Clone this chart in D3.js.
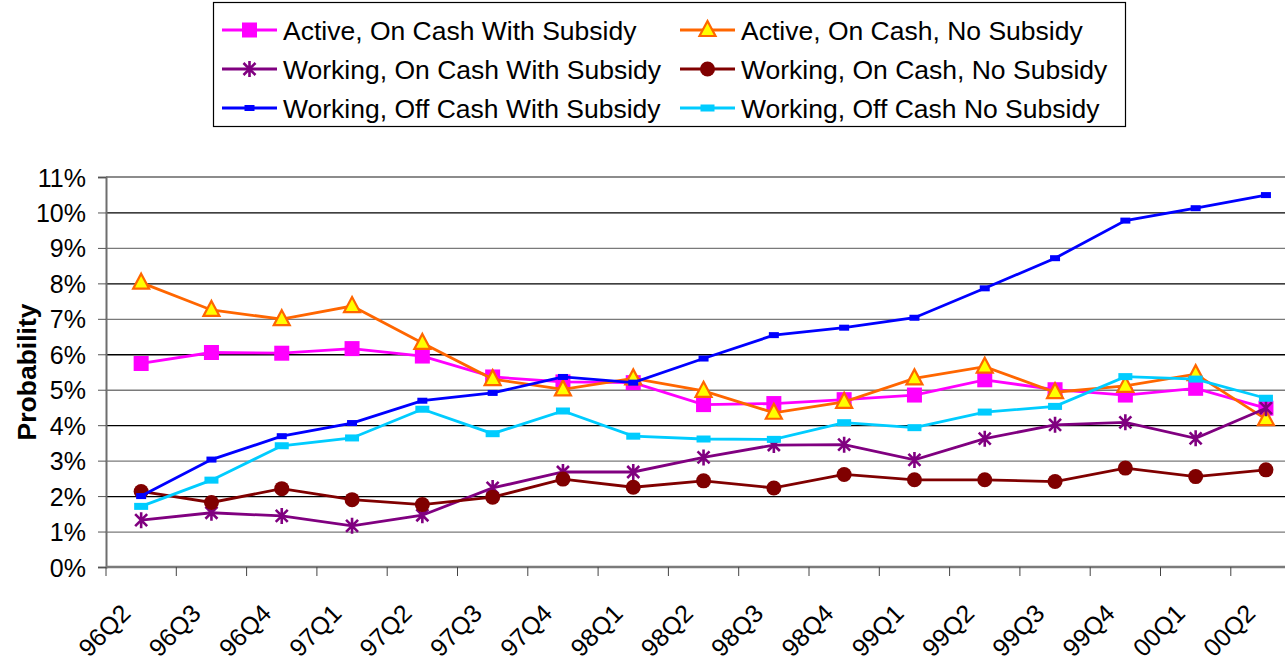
<!DOCTYPE html>
<head>
    <meta charset="utf-8">
    <style>
        body { margin: 0; padding: 0; background: #fff; }
        svg { display: block; font-family: "Liberation Sans", Arial, sans-serif; }
        .tick text { font-size: 25px; fill: #000; }
        .legend text { font-size: 26.5px; }
    </style>
    <script src="https://d3js.org/d3.v7.min.js"></script>
</head>
<body>
    <svg width="1285" height="661"></svg>
    <script>
        // data
        var quarters = ["96Q2", "96Q3", "96Q4", "97Q1", "97Q2", "97Q3", "97Q4", "98Q1", "98Q2",
                        "98Q3", "98Q4", "99Q1", "99Q2", "99Q3", "99Q4", "00Q1", "00Q2"];
        var activeOnCashSub   = [5.74, 6.05, 6.03, 6.16, 5.95, 5.36, 5.22, 5.20, 4.58, 4.61, 4.72, 4.85, 5.28, 5.00, 4.85, 5.04, 4.48];
        var activeOnCashNoSub = [8.02, 7.25, 6.99, 7.36, 6.32, 5.30, 5.01, 5.32, 4.97, 4.35, 4.66, 5.32, 5.65, 4.93, 5.11, 5.44, 4.17];
        var workOnCashSub     = [1.32, 1.53, 1.44, 1.16, 1.46, 2.23, 2.68, 2.68, 3.09, 3.44, 3.45, 3.02, 3.62, 4.01, 4.08, 3.63, 4.48];
        var workOnCashNoSub   = [2.13, 1.82, 2.21, 1.90, 1.76, 1.97, 2.48, 2.25, 2.43, 2.23, 2.61, 2.46, 2.46, 2.41, 2.79, 2.55, 2.74];
        var workOffCashSub    = [2.00, 3.03, 3.69, 4.06, 4.69, 4.91, 5.36, 5.20, 5.88, 6.54, 6.75, 7.03, 7.86, 8.71, 9.77, 10.12, 10.49];
        var workOffCashNoSub  = [1.71, 2.45, 3.42, 3.64, 4.45, 3.76, 4.40, 3.69, 3.61, 3.60, 4.07, 3.93, 4.37, 4.53, 5.37, 5.30, 4.76];
        var yTicks = [0, 1, 2, 3, 4, 5, 6, 7, 8, 9, 10, 11];

        var series = [
            {name: "Active, On Cash With Subsidy", values: activeOnCashSub, color: "#ff00ff", marker: "square"},
            {name: "Active, On Cash, No Subsidy", values: activeOnCashNoSub, color: "#ff6600", marker: "triangle"},
            {name: "Working, On Cash With Subsidy", values: workOnCashSub, color: "#800080", marker: "star"},
            {name: "Working, On Cash, No Subsidy", values: workOnCashNoSub, color: "#800000", marker: "circle"},
            {name: "Working, Off Cash With Subsidy", values: workOffCashSub, color: "#0000ff", marker: "dash"},
            {name: "Working, Off Cash No Subsidy", values: workOffCashNoSub, color: "#00ccff", marker: "bar"}
        ];

        var svg = d3.select("svg");
        var plotLeft = 106, plotTop = 177, plotBottom = 567, band = 70.3;

        var x = d3.scaleBand()
            .domain(quarters)
            .range([plotLeft, plotLeft + band * quarters.length]);
        var y = d3.scaleLinear()
            .domain([0, 11])
            .range([plotBottom, plotTop]);

        // gridlines
        svg.append("g")
            .selectAll("line")
            .data(yTicks.filter(function (d) { return d > 0 && d < 11; }))
            .enter().append("line")
                .attr("x1", plotLeft).attr("x2", 1285)
                .attr("y1", function (d) { return y(d) + 0.5; })
                .attr("y2", function (d) { return y(d) + 0.5; })
                .attr("stroke", function (d) { return d % 2 === 0 ? "#000" : "#7a7a7a"; })
                .attr("stroke-width", 1.3);
        // plot border top
        svg.append("line")
            .attr("x1", plotLeft).attr("x2", 1285)
            .attr("y1", y(11)).attr("y2", y(11))
            .attr("stroke", "#8c8c8c").attr("stroke-width", 2.2);

        // y axis
        var yAxis = svg.append("g")
            .attr("transform", "translate(" + plotLeft + ",0)")
            .call(d3.axisLeft(y).tickValues(yTicks).tickSize(8).tickPadding(12)
                .tickFormat(function (d) { return d + "%"; }));
        yAxis.select(".domain").attr("stroke", "#6e6e6e").attr("stroke-width", 2);
        yAxis.selectAll(".tick line").attr("stroke", "#555");
        yAxis.selectAll(".tick text").attr("dy", "0.36em");

        // x axis
        var xAxis = svg.append("g")
            .attr("transform", "translate(0," + plotBottom + ")");
        xAxis.append("line")
            .attr("x1", plotLeft).attr("x2", 1285)
            .attr("stroke", "#7a7a7a").attr("stroke-width", 2.4);
        xAxis.selectAll(".xt")
            .data(quarters)
            .enter().append("line")
                .attr("class", "xt")
                .attr("x1", function (d) { return x(d); })
                .attr("x2", function (d) { return x(d); })
                .attr("y1", 0).attr("y2", 9)
                .attr("stroke", "#444");
        xAxis.selectAll(".xl")
            .data(quarters)
            .enter().append("text")
                .attr("class", "xl")
                .attr("font-size", 25)
                .attr("text-anchor", "end")
                .attr("transform", function (d) {
                    return "translate(" + (x(d) + x.bandwidth() / 2 - 9) + ",48) rotate(-45)";
                })
                .text(function (d) { return d; });

        // y title
        svg.append("text")
            .attr("transform", "translate(36,372) rotate(-90)")
            .attr("text-anchor", "middle")
            .attr("font-size", 26.5)
            .attr("font-weight", "bold")
            .text("Probability");

        function cx(i) { return x(quarters[i]) + x.bandwidth() / 2; }

        function drawMarker(g, type, color) {
            if (type === "square") {
                g.append("rect").attr("x", -7.5).attr("y", -7.5).attr("width", 15).attr("height", 15)
                    .attr("fill", color);
            } else if (type === "triangle") {
                g.append("path").attr("d", "M0,-9L8,6L-8,6Z")
                    .attr("fill", "#ffff00").attr("stroke", color).attr("stroke-width", 2.2);
            } else if (type === "star") {
                g.append("path").attr("d", "M-6,-6L6,6M6,-6L-6,6M0,-8L0,8")
                    .attr("stroke", color).attr("stroke-width", 2.6).attr("fill", "none");
            } else if (type === "circle") {
                g.append("circle").attr("r", 7.5).attr("fill", color);
            } else if (type === "dash") {
                g.append("rect").attr("x", -5).attr("y", -3).attr("width", 10).attr("height", 6)
                    .attr("fill", color);
            } else if (type === "bar") {
                g.append("rect").attr("x", -7).attr("y", -3.5).attr("width", 14).attr("height", 7)
                    .attr("fill", color);
            }
        }

        var line = d3.line()
            .x(function (d, i) { return cx(i); })
            .y(function (d) { return y(d); });

        series.forEach(function (s) {
            var g = svg.append("g");
            g.append("path")
                .attr("d", line(s.values))
                .attr("fill", "none")
                .attr("stroke", s.color)
                .attr("stroke-width", 2.8);
            s.values.forEach(function (v, i) {
                var m = g.append("g").attr("transform", "translate(" + cx(i) + "," + y(v) + ")");
                drawMarker(m, s.marker, s.color);
            });
        });

        // legend
        var legend = svg.append("g").attr("class", "legend");
        legend.append("rect")
            .attr("x", 213.5).attr("y", 2.5).attr("width", 912).attr("height", 124)
            .attr("fill", "#fff").attr("stroke", "#000").attr("stroke-width", 1.2);
        series.forEach(function (s, i) {
            var lx = i % 2 === 0 ? 222 : 680;
            var ly = 30 + Math.floor(i / 2) * 39;
            var item = legend.append("g").attr("transform", "translate(" + lx + "," + ly + ")");
            item.append("line").attr("x1", 0).attr("x2", 55)
                .attr("stroke", s.color).attr("stroke-width", 2.8);
            var m = item.append("g").attr("transform", "translate(27.5,0)");
            drawMarker(m, s.marker, s.color);
            item.append("text").attr("x", 61).attr("dy", "0.36em").text(s.name);
        });
    </script>
</body>
</html>
